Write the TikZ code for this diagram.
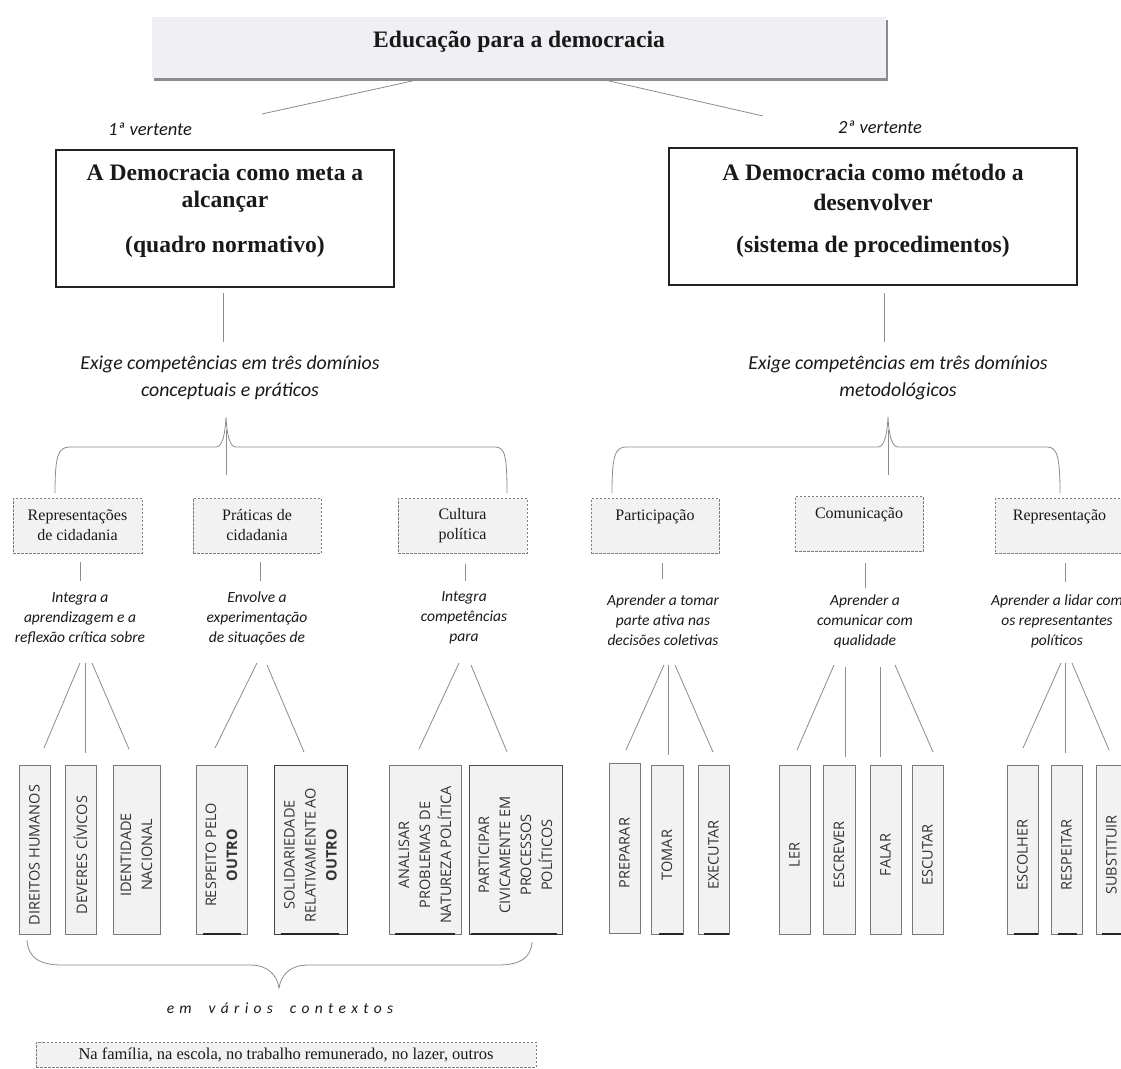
\documentclass[tikz,border=0pt]{standalone}
\usepackage{fontspec}
\setmainfont{Liberation Serif}
\newfontfamily\calibri{Carlito}
\newfontfamily\opensans{Open Sans}
\usetikzlibrary{shadows}
\definecolor{linegray}{RGB}{140,140,140}
\definecolor{boxfill}{RGB}{242,242,242}
\definecolor{titlefill}{RGB}{240,240,244}
\definecolor{maindraw}{RGB}{35,35,35}
\definecolor{dashgray}{RGB}{125,125,125}
\definecolor{vgray}{RGB}{120,120,120}
\definecolor{txt}{RGB}{25,25,25}
\newcommand\lsp{\hspace{5.3pt}}
\begin{document}
\begin{tikzpicture}[x=1pt,y=-1pt,
  conn/.style={draw=linegray, line width=0.8pt},
  titlebox/.style={fill=titlefill, draw=none, inner sep=0pt,
     drop shadow={shadow xshift=2pt, shadow yshift=-3pt, opacity=0.45, fill=black}},
  titletext/.style={font=\fontsize{23.6}{28}\selectfont\bfseries, text=txt},
  mainbox/.style={draw=maindraw, line width=1.8pt, inner sep=0pt, minimum height=137pt},
  mtext/.style={font=\fontsize{23.6}{28}\selectfont\bfseries, text=txt},
  dbox/.style={draw=dashgray, dash pattern=on 2.5pt off 1.5pt, line width=0.7pt, fill=boxfill,
     inner sep=0pt, minimum height=55pt, align=center, font=\fontsize{16}{20}\selectfont, text=txt},
  stext/.style={font=\fontsize{16}{20}\selectfont, text=txt},
  itx/.style={font=\calibri\itshape\fontsize{15.5}{20}\selectfont, align=center, text=txt},
  bigit/.style={font=\calibri\itshape\fontsize{19.8}{27}\selectfont, align=center, text=txt},
  vbox/.style={draw=vgray, fill=boxfill, line width=0.8pt, inner sep=0pt, minimum height=169pt},
  vtext/.style={rotate=90, font=\opensans\fontsize{14.5}{21}\selectfont, align=center, text=black!80},
  shade/.style={draw=black!85, line width=1.6pt}
]
\useasboundingbox (0,0) rectangle (1121,1068);
\fill[white] (0,0) rectangle (1121,1068);

% ---- top
\node[titlebox, minimum width=734pt, minimum height=61pt] (top) at (519,47.5) {};
\node[titletext] (toptxt) at (519,42) {Educação para a democracia};

\node[bigit, font=\calibri\itshape\fontsize{18.5}{22}\selectfont] (v1) at (150,129) {1ª vertente};
\node[bigit, font=\calibri\itshape\fontsize{18.5}{22}\selectfont] (v2) at (880,127) {2ª vertente};
\coordinate (v1c) at (262,114);
\coordinate (v2c) at (763,116);
\draw[conn] ([xshift=-94pt]top.south) -- (v1c);
\draw[conn] ([xshift=78pt]top.south) -- (v2c);

% ---- main boxes
\node[mainbox, minimum width=338pt] (m1) at (225,218.5) {};
\node[mtext] (m1a) at (225,172) {A Democracia como meta a};
\node[mtext] (m1b) at (225,202) {alcançar};
\node[mtext] (m1c) at (225,247) {(quadro normativo)};

\node[mainbox, minimum width=408pt] (m2) at (873,216.5) {};
\node[mtext] (m2a) at (873,172) {A Democracia como método a};
\node[mtext] (m2b) at (873,202) {desenvolver};
\node[mtext] (m2c) at (873,247) {(sistema de procedimentos)};

\coordinate (m1s) at (223,293);
\coordinate (ex1n) at (223,342);
\coordinate (m2s) at (884,293);
\coordinate (ex2n) at (884,342);
\draw[conn] (m1s) -- (ex1n);
\draw[conn] (m2s) -- (ex2n);

\node[bigit] (ex1) at (230,377.5) {Exige competências em três domínios\\conceptuais e práticos};
\node[bigit] (ex2) at (898,377.5) {Exige competências em três domínios\\metodológicos};

% ---- braces
\draw[conn] (55,493) .. controls (55,456) and (58,447) .. (70,447) -- (216,447)
  .. controls (222,447) and (225,436) .. (226,417)
  .. controls (227,436) and (230,447) .. (236,447) -- (495,447)
  .. controls (505,447) and (507,456) .. (507,493);
\coordinate (b1t) at (226,430);
\coordinate (b1b) at (226,475);
\draw[conn] (b1t) -- (b1b);

\draw[conn] (612,493) .. controls (612,456) and (615,447) .. (626,447) -- (878,447)
  .. controls (884,447) and (887,436) .. (888,417)
  .. controls (889,436) and (892,447) .. (898,447) -- (1047,447)
  .. controls (1057,447) and (1060,456) .. (1060,493);
\coordinate (b2t) at (888,430);
\coordinate (b2b) at (888,475);
\draw[conn] (b2t) -- (b2b);

% ---- domain boxes
\node[dbox, minimum width=129pt] (rep) at (77.5,525.5) {Representações\\de cidadania};
\node[dbox, minimum width=128pt] (prat) at (257,525.5) {Práticas de\\cidadania};
\node[dbox, minimum width=129pt] (cult) at (462.5,525.5) {Cultura\\política};
\node[dbox, minimum width=128pt] (part) at (655,526) {};
\node[stext] (partt) at (655,517) {Participação};
\node[dbox, minimum width=128pt] (com) at (859,524) {};
\node[stext] (comt) at (859,515) {Comunicação};
\node[dbox, minimum width=129pt] (repr) at (1059.5,526) {};
\node[stext] (reprt) at (1059.5,517) {Representação};

% short verticals
\draw[conn] (80,562) -- (80,581);
\draw[conn] (260,562) -- (260,581);
\draw[conn] (465,564) -- (465,581);
\draw[conn] (662.5,563) -- (662.5,579);
\draw[conn] (865,563) -- (865,588);
\draw[conn] (1065,563) -- (1065,582);

% italic descriptions
\node[itx] (d1) at (80,618) {Integra a\\aprendizagem e a\\reflexão crítica sobre};
\node[itx] (d2) at (257,618) {Envolve a\\experimentação\\de situações de};
\node[itx] (d3) at (464,618) {Integra\\competências\\para};
\node[itx] (d4) at (663,620) {Aprender a tomar\\parte ativa nas\\decisões coletivas};
\node[itx] (d5) at (865,621) {Aprender a\\comunicar com\\qualidade};
\node[itx] (d6) at (1057,621) {Aprender a lidar com\\os representantes\\políticos};

% ---- vertical boxes left
\node[vbox, minimum width=31pt] (dh) at (34.5,849.5) {};
\node[vbox, minimum width=31pt] (dc) at (80.5,849.5) {};
\node[vbox, minimum width=47pt] (idn) at (136.5,849.5) {};
\node[vbox, minimum width=51pt] (rsp) at (221.5,849.5) {};
\node[vbox, minimum width=73pt, draw=black!75] (sol) at (310.5,849.5) {};
\node[vbox, minimum width=72pt] (ana) at (425,849.5) {};
\node[vbox, minimum width=93pt, draw=black!70] (pci) at (515.5,849.5) {};

\node[vtext] at (34.5,855) {DIREITOS HUMANOS};
\node[vtext] at (80.5,855) {DEVERES CÍVICOS};
\node[vtext] at (136.5,855) {IDENTIDADE\\NACIONAL};
\node[vtext] at (221.5,855) {RESPEITO PELO\\\textbf{OUTRO}};
\node[vtext] at (310.5,855) {SOLIDARIEDADE\\RELATIVAMENTE AO\\\textbf{OUTRO}};
\node[vtext] at (425,855) {ANALISAR\\PROBLEMAS DE\\NATUREZA POLÍTICA};
\node[vtext] at (515.5,855) {PARTICIPAR\\CIVICAMENTE EM\\PROCESSOS\\POLÍTICOS};

% ---- vertical boxes right
\node[vbox, minimum width=31pt, minimum height=170pt] (pre) at (624.5,848) {};
\node[vbox, minimum width=32pt] (tom) at (667,849.5) {};
\node[vbox, minimum width=31pt] (exe) at (713.5,849.5) {};
\node[vbox, minimum width=31pt] (ler) at (794.5,849.5) {};
\node[vbox, minimum width=32pt] (esc) at (839,849.5) {};
\node[vbox, minimum width=31pt] (fal) at (885.5,849.5) {};
\node[vbox, minimum width=31pt] (ect) at (927.5,849.5) {};
\node[vbox, minimum width=31pt] (eso) at (1022.5,849.5) {};
\node[vbox, minimum width=31pt] (rpt) at (1066.5,849.5) {};
\node[vbox, minimum width=31pt] (sub) at (1111.5,849.5) {};

\node[vtext] at (624.5,853) {PREPARAR};
\node[vtext] at (667,855) {TOMAR};
\node[vtext] at (713.5,855) {EXECUTAR};
\node[vtext] at (794.5,855) {LER};
\node[vtext] at (839,855) {ESCREVER};
\node[vtext] at (885.5,855) {FALAR};
\node[vtext] at (927.5,855) {ESCUTAR};
\node[vtext] at (1022.5,855) {ESCOLHER};
\node[vtext] at (1066.5,855) {RESPEITAR};
\node[vtext] at (1111.5,855) {SUBSTITUIR};

% dark bottom edges
\draw[shade] (203,934) -- (241,934);
\draw[shade] (281,934) -- (339,934);
\draw[shade] (395,934) -- (455,934);
\draw[shade] (471,934) -- (557,934);
\draw[shade] (659,934) -- (683,934);
\draw[shade] (704,934) -- (729,934);
\draw[shade] (1014,934) -- (1038,934);
\draw[shade] (1058,934) -- (1077,934);
\draw[shade] (1102,934) -- (1121,934);

% ---- fans
\draw[conn] (80,663) -- (44,748);
\draw[conn] (85,663) -- (85,753);
\draw[conn] (92,663) -- (129,749);
\draw[conn] (257,663) -- (215,748);
\draw[conn] (267,665) -- (304,752);
\draw[conn] (459,663) -- (419,749);
\draw[conn] (471,665) -- (507,752);
\draw[conn] (664,665) -- (626,750);
\draw[conn] (668,665) -- (668,755);
\draw[conn] (675,665) -- (713,752);
\draw[conn] (834,665) -- (797,750);
\draw[conn] (845,667) -- (845,757);
\draw[conn] (880,667) -- (880,757);
\draw[conn] (895,665) -- (933,752);
\draw[conn] (1061,663) -- (1023,748);
\draw[conn] (1065,663) -- (1065,753);
\draw[conn] (1072,663) -- (1109,750);

% ---- bottom brace
\draw[conn] (27,940) .. controls (28,958) and (40,965) .. (62,965) -- (250,965)
  .. controls (268,965) and (277,975) .. (279,988)
  .. controls (281,975) and (290,965) .. (308,965) -- (498,965)
  .. controls (520,965) and (531,958) .. (532,942);

\node[itx, font=\calibri\itshape\fontsize{15.5}{18}\selectfont] (ctx) at (280,1008)
  {e\lsp m\hspace{17pt}v\lsp á\lsp r\lsp i\lsp o\lsp s\hspace{17pt}c\lsp o\lsp n\lsp t\lsp e\lsp x\lsp t\lsp o\lsp s};

\node[dbox, minimum width=500pt, minimum height=25pt, font=\fontsize{16.5}{18}\selectfont] (fam) at (286,1054.5)
  {Na família, na escola, no trabalho remunerado, no lazer, outros};
\end{tikzpicture}
\end{document}
